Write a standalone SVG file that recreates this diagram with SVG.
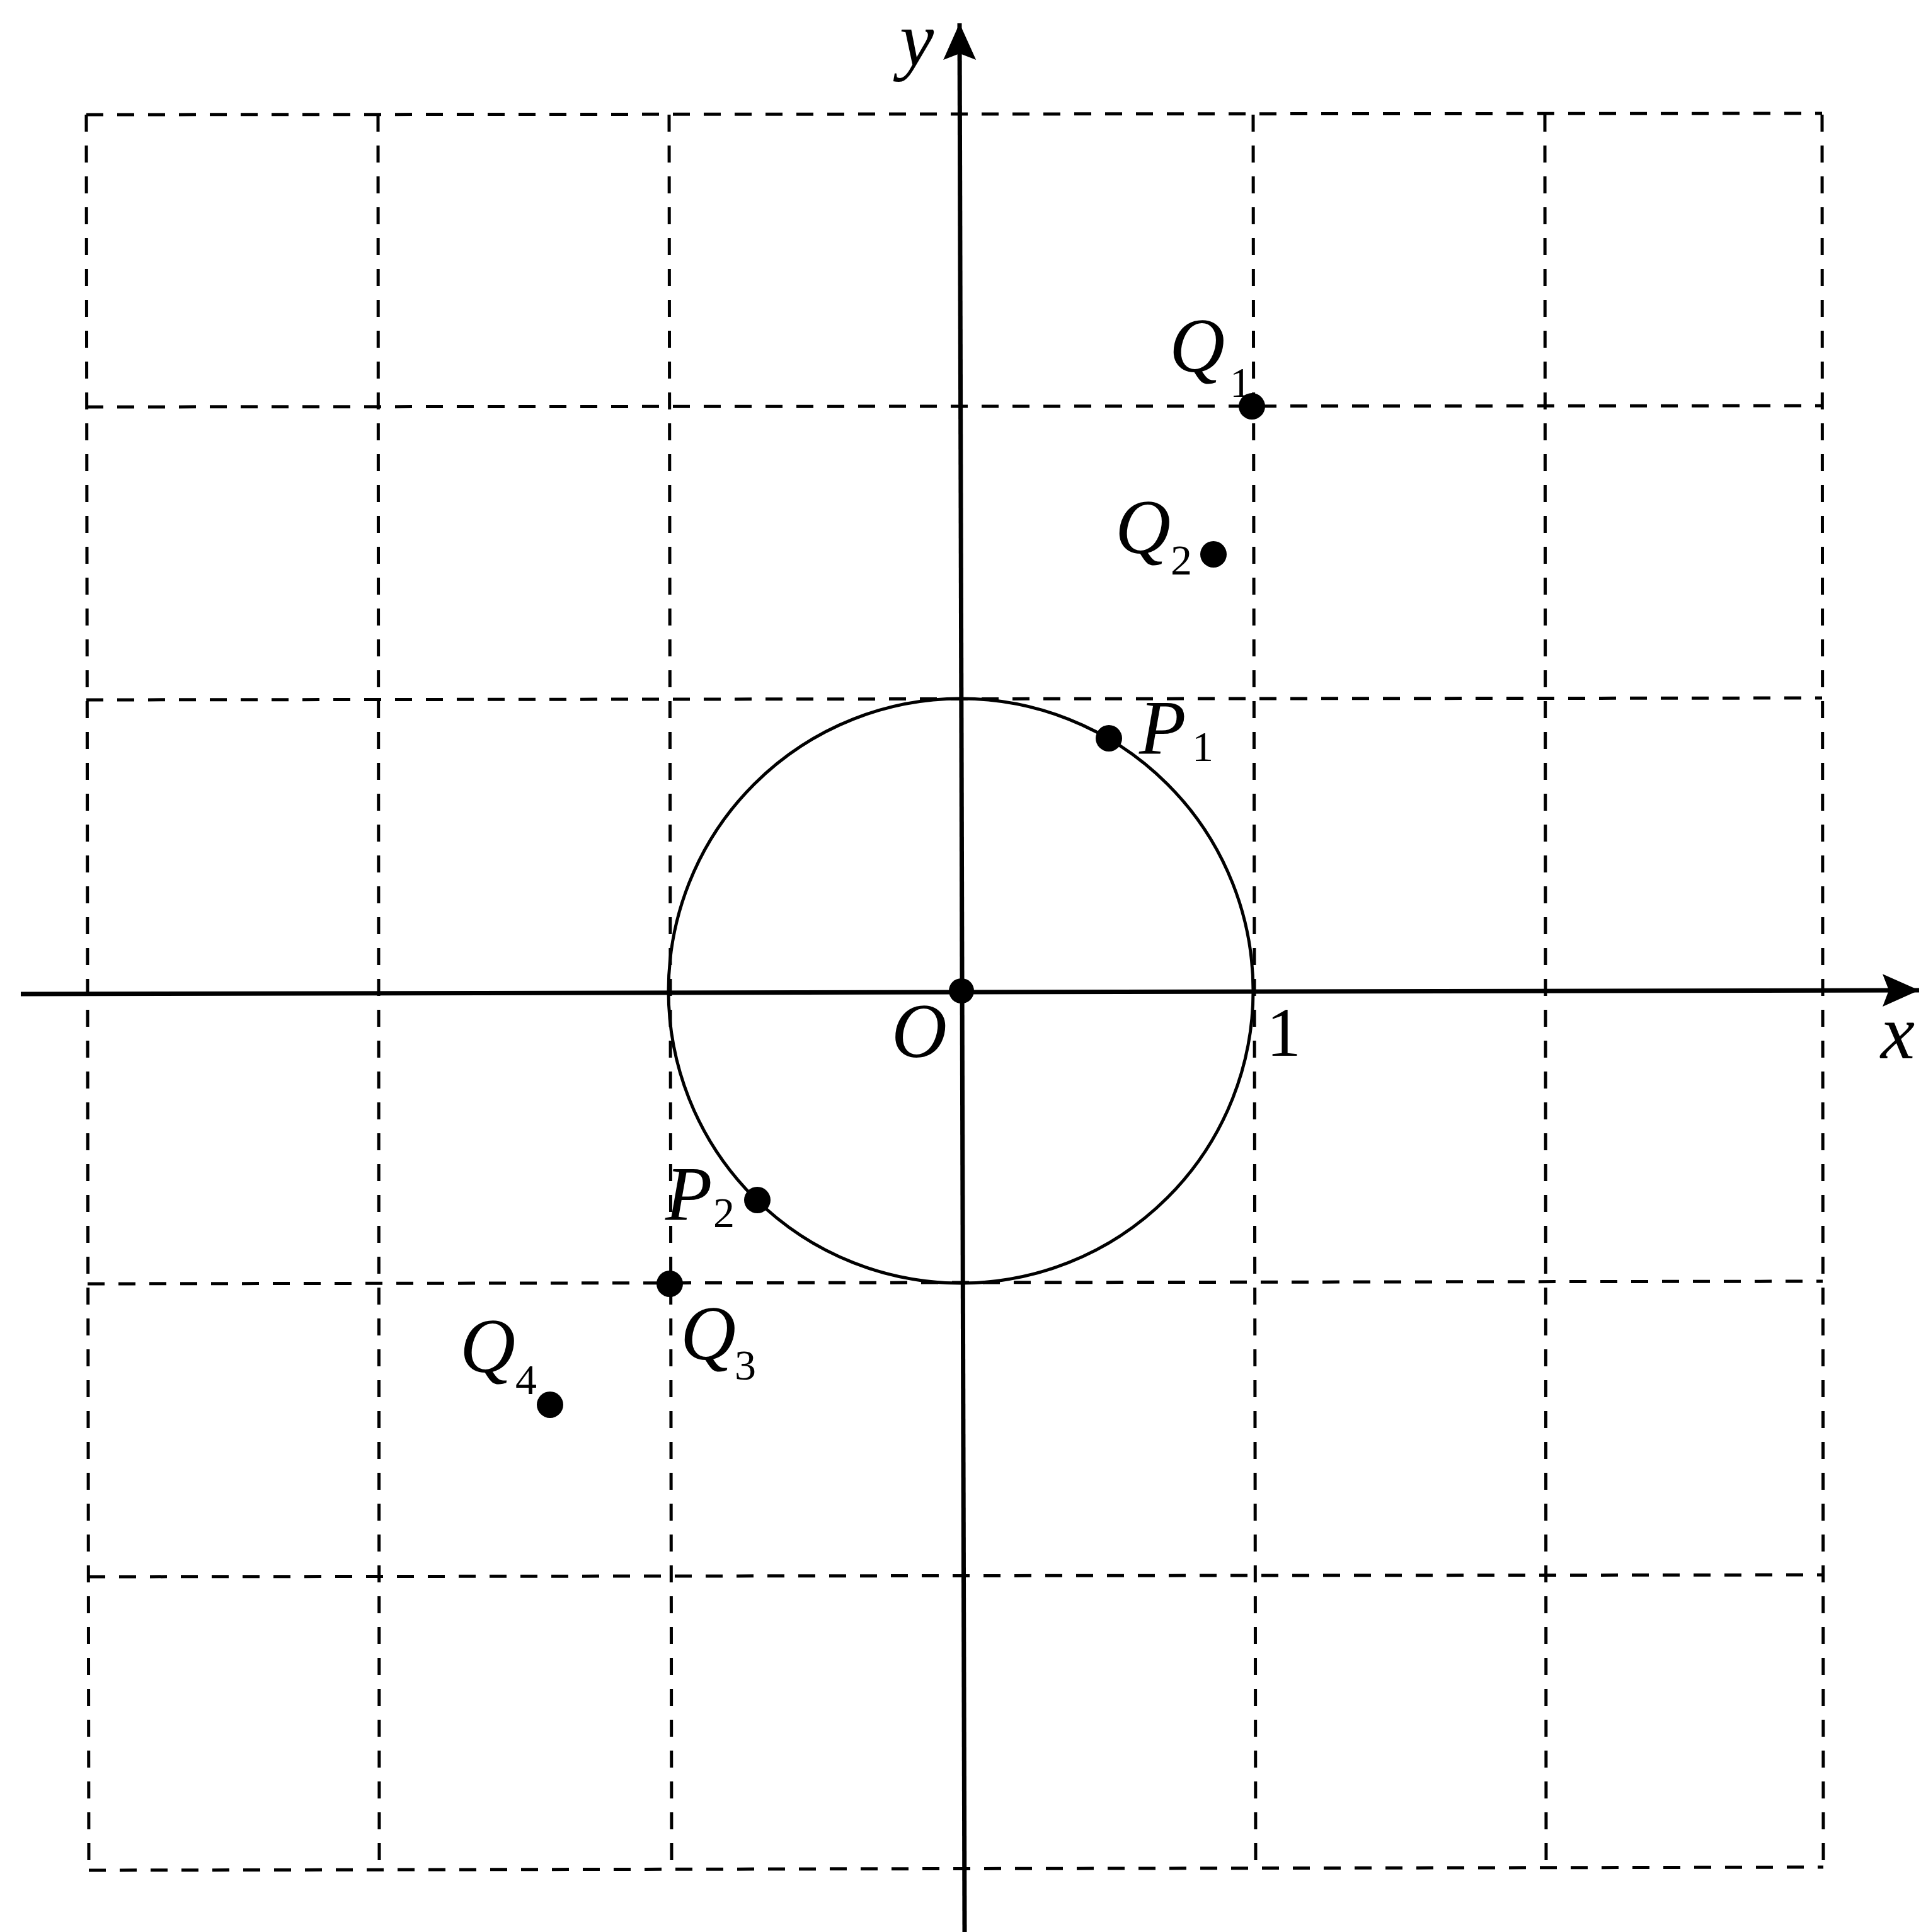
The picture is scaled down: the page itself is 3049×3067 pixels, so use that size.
<svg xmlns="http://www.w3.org/2000/svg" width="3049" height="3067" viewBox="0 0 3049 3067">
<style>
.grid{stroke:#000;stroke-width:5;stroke-dasharray:27 22;fill:none}
.axis{stroke:#000;stroke-width:7;fill:none}
.circ{stroke:#000;stroke-width:5;fill:none}
.dot{fill:#000}
.lbl{font-family:"Liberation Serif","Times New Roman",serif;font-style:italic;font-size:122px;fill:#000}
.sub{font-family:"Liberation Serif","Times New Roman",serif;font-size:68px;fill:#000}
.num{font-family:"Liberation Serif","Times New Roman",serif;font-size:110px;fill:#000}
</style>
<defs>
<marker id="arr" markerUnits="userSpaceOnUse" markerWidth="64" markerHeight="56" refX="58" refY="26" orient="auto">
<path d="M0,0 L58,26 L0,52 L10,26 Z" fill="#000"/>
</marker>
</defs>
<rect width="3049" height="3067" fill="#fff"/>
<g id="grid">
<line class="grid" x1="137" y1="182" x2="141" y2="2970"/>
<line class="grid" x1="600" y1="182" x2="602" y2="2968"/>
<line class="grid" x1="1062" y1="182" x2="1066" y2="2968"/>
<line class="grid" x1="1989" y1="182" x2="1993" y2="2966"/>
<line class="grid" x1="2452" y1="182" x2="2454" y2="2965"/>
<line class="grid" x1="2892" y1="182" x2="2894" y2="2964"/>
<line class="grid" x1="137" y1="182" x2="2892" y2="180"/>
<line class="grid" x1="137" y1="646" x2="2892" y2="644"/>
<line class="grid" x1="137" y1="1111" x2="2892" y2="1108"/>
<line class="grid" x1="139" y1="2038" x2="2893" y2="2034"/>
<line class="grid" x1="140" y1="2503" x2="2894" y2="2500"/>
<line class="grid" x1="141" y1="2969" x2="2894" y2="2964"/>
</g>
<g id="connectors">
<line id="x-axis" class="axis" x1="33" y1="1578" x2="3046" y2="1572" marker-end="url(#arr)"/>
<line id="y-axis" class="axis" x1="1531" y1="3067" x2="1523" y2="37" marker-end="url(#arr)"/>
<circle id="unit-circle" class="circ" cx="1525" cy="1573" r="464"/>
</g>
<g id="label-x"><text class="lbl" x="2985" y="1680">x</text></g>
<g id="label-y"><text class="lbl" x="1428" y="104">y</text></g>
<g id="node-O"><circle class="dot" cx="1526" cy="1573" r="20"/><text class="lbl" x="1415" y="1678">O</text></g>
<g id="label-1"><text class="num" x="2010" y="1676">1</text></g>
<g id="node-P1"><circle class="dot" cx="1760" cy="1172" r="21"/><text class="lbl" x="1808" y="1197">P</text><text class="sub" x="1892" y="1208">1</text></g>
<g id="node-P2"><circle class="dot" cx="1202" cy="1905" r="21"/><text class="lbl" x="1056" y="1937">P</text><text class="sub" x="1132" y="1948">2</text></g>
<g id="node-Q1"><circle class="dot" cx="1987" cy="645" r="21"/><text class="lbl" x="1856" y="590">Q</text><text class="sub" x="1952" y="630">1</text></g>
<g id="node-Q2"><circle class="dot" cx="1926" cy="880" r="21"/><text class="lbl" x="1770" y="878">Q</text><text class="sub" x="1858" y="912">2</text></g>
<g id="node-Q3"><circle class="dot" cx="1063" cy="2038" r="21"/><text class="lbl" x="1080" y="2158">Q</text><text class="sub" x="1166" y="2190">3</text></g>
<g id="node-Q4"><circle class="dot" cx="873" cy="2230" r="21"/><text class="lbl" x="730" y="2178">Q</text><text class="sub" x="818" y="2213">4</text></g>
</svg>
